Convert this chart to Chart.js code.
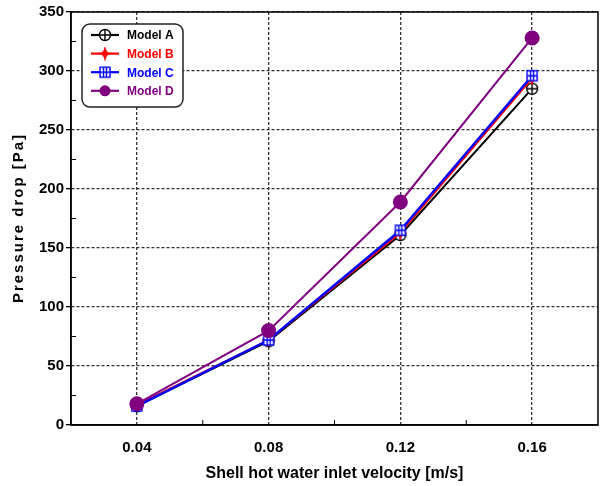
<!DOCTYPE html>
<html>
<head>
<meta charset="utf-8">
<script src="https://cdn.jsdelivr.net/npm/chart.js@4.4.1/dist/chart.umd.min.js"></script>
<style>
  html, body { margin: 0; padding: 0; background: #fff; }
  #wrap { width: 604px; height: 486px; }
</style>
</head>
<body>
<div id="wrap"><canvas id="myChart" width="604" height="486"></canvas></div>
<script>
// data
const velocities = [0.04, 0.08, 0.12, 0.16];
const modelA = [16, 71, 161, 285];
const modelB = [17, 72, 163, 294];
const modelC = [16, 72, 165, 296];
const modelD = [18, 80, 189, 328];
const xTicks = [0.04, 0.08, 0.12, 0.16];
const yTicks = [0, 50, 100, 150, 200, 250, 300, 350];

const FONT = "'Liberation Sans', Arial, sans-serif";

// marker images
function makeMarker(kind, color) {
  const c = document.createElement('canvas');
  c.width = 14; c.height = 14;
  const g = c.getContext('2d');
  g.strokeStyle = color;
  g.lineWidth = 1.4;
  if (kind === 'circlePlus') {
    g.fillStyle = '#fff';
    g.beginPath(); g.arc(7, 7, 5.5, 0, Math.PI * 2); g.fill(); g.stroke();
    g.beginPath(); g.moveTo(1.5, 7); g.lineTo(12.5, 7); g.moveTo(7, 1.5); g.lineTo(7, 12.5); g.stroke();
  } else if (kind === 'star') {
    g.lineWidth = 1.6;
    g.beginPath(); g.moveTo(7, 0.5); g.lineTo(7, 13.5); g.moveTo(1, 7); g.lineTo(13, 7); g.stroke();
    g.beginPath(); g.moveTo(7, 3); g.lineTo(10, 7); g.lineTo(7, 11); g.lineTo(4, 7); g.closePath(); g.stroke();
  } else if (kind === 'squareGrid') {
    g.fillStyle = '#fff';
    g.fillRect(2, 2, 10, 10); g.strokeRect(2, 2, 10, 10);
    g.beginPath(); g.moveTo(5.5, 2); g.lineTo(5.5, 12); g.moveTo(8.5, 2); g.lineTo(8.5, 12); g.moveTo(2, 7); g.lineTo(12, 7); g.stroke();
  }
  return c;
}

const markerA = makeMarker('circlePlus', '#000');
const markerB = makeMarker('star', '#ff0000');
const markerC = makeMarker('squareGrid', '#0000ff');

function series(xs, ys) {
  return xs.map((x, i) => ({ x: x, y: ys[i] }));
}

// frame, minor ticks, y title and the boxed legend
const extras = {
  id: 'extras',
  afterDraw(chart) {
    const ctx = chart.ctx;
    const a = chart.chartArea;
    const xs = chart.scales.x;
    const ys = chart.scales.y;
    ctx.save();
    ctx.setLineDash([]);
    ctx.strokeStyle = '#000';
    ctx.lineWidth = 1.5;
    ctx.strokeRect(a.left, a.top, a.right - a.left, a.bottom - a.top);

    // minor ticks pointing inward
    ctx.lineWidth = 1;
    ctx.beginPath();
    [0.06, 0.10, 0.14].forEach(v => {
      const px = xs.getPixelForValue(v);
      ctx.moveTo(px, a.bottom); ctx.lineTo(px, a.bottom - 5);
    });
    [25, 75, 125, 175, 225, 275, 325].forEach(v => {
      const py = ys.getPixelForValue(v);
      ctx.moveTo(a.left, py); ctx.lineTo(a.left + 5, py);
    });
    ctx.stroke();

    // y axis title, letter spaced
    ctx.save();
    ctx.translate(19, 218);
    ctx.rotate(-Math.PI / 2);
    ctx.fillStyle = '#000';
    ctx.font = 'bold 15px ' + FONT;
    ctx.letterSpacing = '2px';
    ctx.textAlign = 'center';
    ctx.textBaseline = 'middle';
    ctx.fillText('Pressure drop [Pa]', 0, 0);
    ctx.restore();

    // legend box
    const bx = 82, by = 24, bw = 101, bh = 83;
    ctx.fillStyle = '#fff';
    ctx.strokeStyle = '#222';
    ctx.lineWidth = 1.5;
    ctx.beginPath();
    ctx.roundRect(bx, by, bw, bh, 8);
    ctx.fill(); ctx.stroke();

    chart.data.datasets.forEach((ds, i) => {
      const y = 35 + i * 18.6;
      ctx.strokeStyle = ds.borderColor;
      ctx.lineWidth = 2.2;
      ctx.beginPath(); ctx.moveTo(91, y); ctx.lineTo(119, y); ctx.stroke();
      if (ds.pointStyle instanceof HTMLCanvasElement) {
        ctx.drawImage(ds.pointStyle, 105 - 7, y - 7);
      } else {
        ctx.fillStyle = ds.borderColor;
        ctx.beginPath(); ctx.arc(105, y, 5.5, 0, Math.PI * 2); ctx.fill();
      }
      ctx.fillStyle = ds.borderColor;
      ctx.font = 'bold 12px ' + FONT;
      ctx.textBaseline = 'middle';
      ctx.textAlign = 'left';
      ctx.fillText(ds.label, 127, y + 1);
    });
    ctx.restore();
  }
};

const ctx = document.getElementById('myChart').getContext('2d');
const chart = new Chart(ctx, {
  type: 'line',
  data: {
    datasets: [{
      label: 'Model A',
      data: series(velocities, modelA),
      borderColor: '#000000',
      backgroundColor: '#ffffff',
      borderWidth: 2,
      pointStyle: markerA,
      order: 3
    }, {
      label: 'Model B',
      data: series(velocities, modelB),
      borderColor: '#ff0000',
      backgroundColor: '#ff0000',
      borderWidth: 2,
      pointStyle: markerB,
      order: 2
    }, {
      label: 'Model C',
      data: series(velocities, modelC),
      borderColor: '#0000ff',
      backgroundColor: '#0000ff',
      borderWidth: 2.5,
      pointStyle: markerC,
      order: 1
    }, {
      label: 'Model D',
      data: series(velocities, modelD),
      borderColor: '#800080',
      backgroundColor: '#800080',
      borderWidth: 2,
      pointStyle: 'circle',
      pointRadius: 6.5,
      order: 0
    }]
  },
  options: {
    responsive: false,
    animation: false,
    layout: { autoPadding: false, padding: { left: 0, right: 6, top: 12, bottom: 3 } },
    plugins: {
      legend: { display: false },
      tooltip: { enabled: false }
    },
    scales: {
      x: {
        type: 'linear',
        min: 0.02,
        max: 0.18,
        afterBuildTicks: (scale) => { scale.ticks = xTicks.map(v => ({ value: v })); },
        afterFit: (scale) => {
          scale.height = 58;
          scale.paddingLeft = 0;
          scale.paddingRight = 0;
        },
        grid: {
          color: '#333',
          lineWidth: 1.3,
          drawTicks: false
        },
        border: { display: true, color: '#000', width: 1.5, dash: [3, 2] },
        ticks: {
          color: '#000',
          font: { family: FONT, size: 15, weight: 'bold' },
          padding: 14,
          maxRotation: 0,
          callback: (v) => v.toFixed(2)
        },
        title: {
          display: true,
          text: 'Shell hot water inlet velocity [m/s]',
          color: '#000',
          font: { family: FONT, size: 16, weight: 'bold' },
          padding: { top: 5, bottom: 0 }
        }
      },
      y: {
        min: 0,
        max: 350,
        afterBuildTicks: (scale) => { scale.ticks = yTicks.map(v => ({ value: v })); },
        afterFit: (scale) => { scale.width = 71; },
        grid: {
          color: '#333',
          lineWidth: 1.3,
          tickLength: 5,
          tickColor: '#000'
        },
        border: { display: true, color: '#000', width: 1.5, dash: [3, 2] },
        ticks: {
          color: '#000',
          font: { family: FONT, size: 15, weight: 'bold' },
          padding: 2
        },
        title: { display: false }
      }
    }
  },
  plugins: [extras]
});
</script>
</body>
</html>
